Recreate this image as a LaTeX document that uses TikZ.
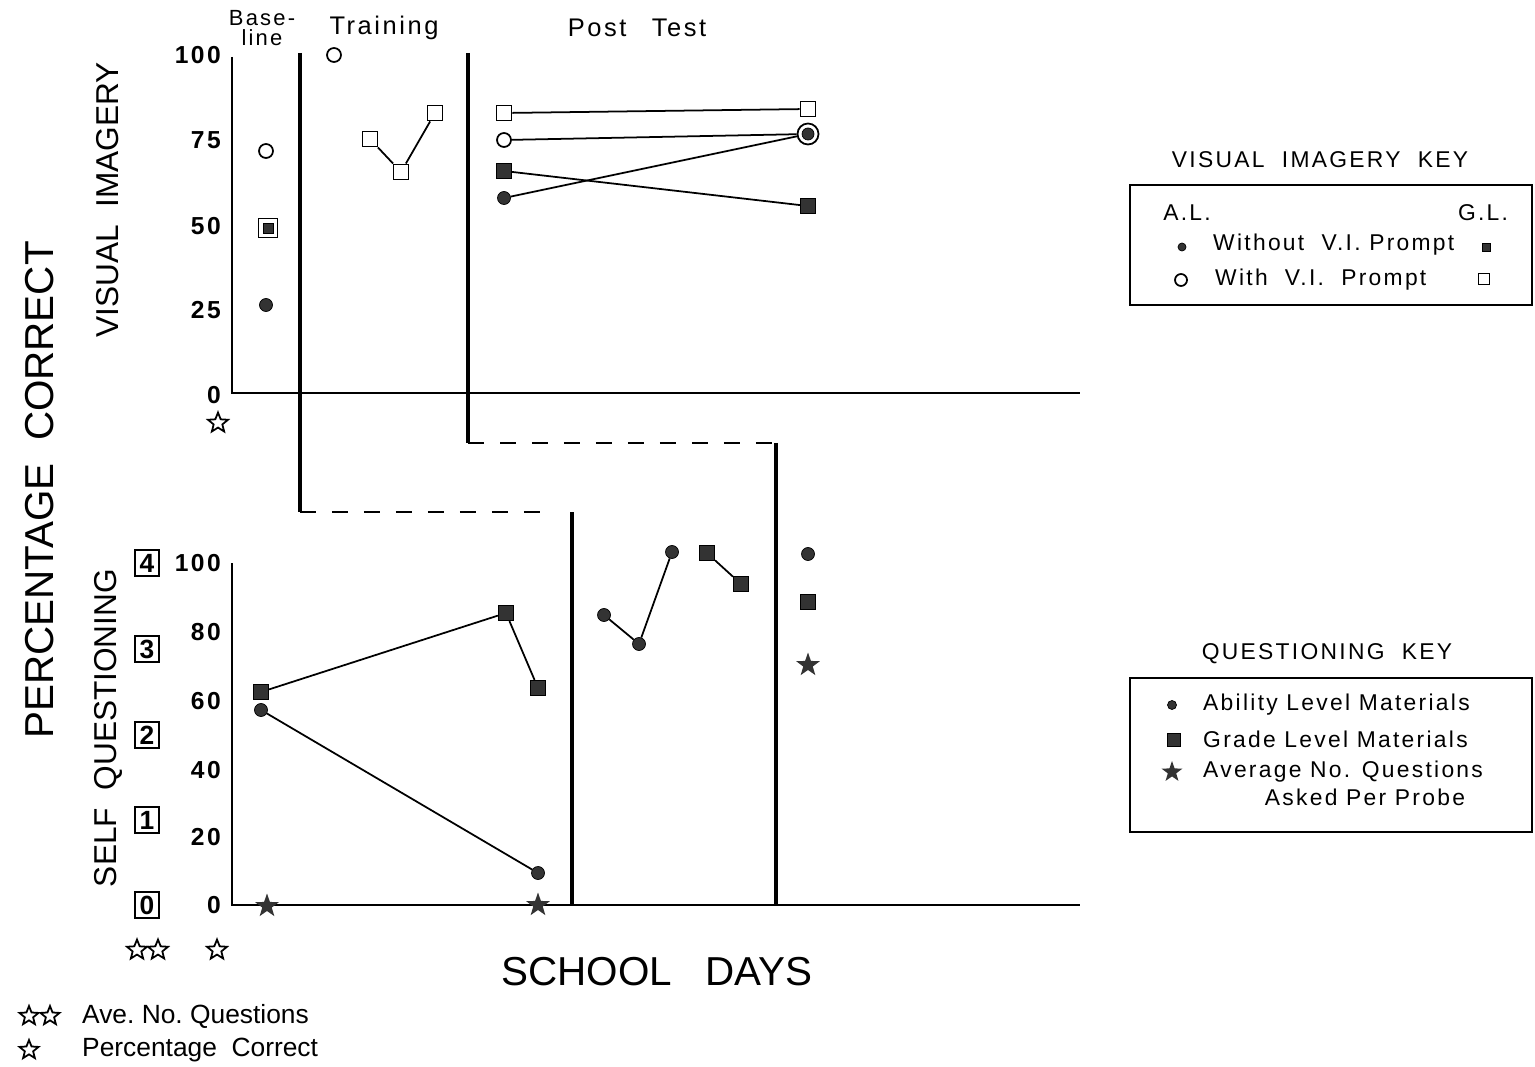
\documentclass[tikz,border=0pt]{standalone}
\usepackage{fontspec}
\setmainfont{Liberation Sans}[LetterSpace=10]
\newfontfamily\plainfont{Liberation Sans}
\usetikzlibrary{shapes.geometric}

\begin{document}
\begin{tikzpicture}[x=0.02cm, y=-0.02cm,
  axis/.style={line width=1.2pt},
  phase/.style={line width=1.8pt},
  link/.style={line width=1pt},
  guide/.style={line width=1.4pt, dash pattern=on 0.32cm off 0.32cm},
  dot/.style={circle, fill=black!80, draw=black, inner sep=0pt, minimum size=0.26cm},
  ring/.style={circle, draw=black, line width=1pt, inner sep=0pt, minimum size=0.28cm},
  openbox/.style={rectangle, draw=black, line width=1.1pt, inner sep=0pt, minimum size=0.3cm},
  block/.style={rectangle, fill=black!80, draw=black, inner sep=0pt, minimum size=0.31cm},
  fullstar/.style={star, star points=5, star point ratio=2.5, fill=black!80, inner sep=0pt, minimum size=0.5cm},
  emptystar/.style={star, star points=5, star point ratio=2.3, draw=black, line width=1pt, inner sep=0pt, minimum size=0.42cm},
  ticklabel/.style={anchor=east, font=\ticksize\bfseries},
  numbox/.style={draw, line width=1.1pt, minimum width=0.48cm, minimum height=0.52cm, inner sep=0pt, font=\numsize\bfseries}
]
\def\ticksize{\fontsize{14}{16}\selectfont}
\def\numsize{\fontsize{15}{17}\selectfont}
\def\headsize{\fontsize{14.5}{16}\selectfont}
\def\keysize{\fontsize{13}{15}\selectfont}
\def\axissize{\plainfont\fontsize{18}{20}\selectfont}
\def\bigsize{\plainfont\fontsize{23}{25}\selectfont}

\useasboundingbox (0, 0) rectangle (1535, 1067);

% titles of the phases
\node[align=center, font=\fontsize{12.5}{11}\selectfont, inner sep=0pt] (base) at (262, 28) {Base-\\line};
\node[font=\headsize] (train) at (384, 28) {Training};
\node[font=\headsize] (post) at (637, 28) {Post\quad Test};

% axis names
\node[rotate=90, font=\bigsize] (pc) at (40, 490) {PERCENTAGE\ \ CORRECT};
\node[rotate=90, font=\axissize] (vi) at (108, 200) {VISUAL\ \ IMAGERY};
\node[rotate=90, font=\axissize] (sq) at (108, 728) {SELF\ \ QUESTIONING};
\node[font=\bigsize] (days) at (657, 972) {SCHOOL\ \ \ DAYS};

%% visual imagery
\draw[axis] (232, 57) -- (232, 393) -- (1080, 393);
\foreach \val/\ypos in {100/55, 75/140, 50/226, 25/310, 0/395}
  \node[ticklabel] (v\val) at (227, \ypos) {\val};
\node[emptystar] (vstar) at (218, 423) {};

\node[ring] (b1) at (266, 151) {};
\node[openbox, minimum size=0.38cm] (b2) at (268, 228) {};
\node[block, minimum size=0.2cm] (b2in) at (b2) {};
\node[dot] (b3) at (266, 305) {};

\node[ring] (t1) at (334, 55) {};
\node[openbox] (t2) at (370, 139) {};
\node[openbox] (t3) at (401, 172) {};
\node[openbox] (t4) at (435, 113) {};
\draw[link] (t2) -- (t3) -- (t4);

\node[openbox] (p1) at (504, 113) {};
\node[ring] (p2) at (504, 140) {};
\node[block] (p3) at (504, 171) {};
\node[dot] (p4) at (504, 198) {};

\node[openbox] (f1) at (808, 109) {};
\node[ring, minimum size=0.42cm] (f2) at (808, 134) {};
\node[dot, minimum size=0.24cm] (f2in) at (f2) {};
\node[block] (f3) at (808, 206) {};

\draw[link] (p1) -- (f1);
\draw[link] (p2) -- (f2);
\draw[link] (p3) -- (f3);
\draw[link] (p4) -- (f2);

%% phase lines
\draw[phase] (300, 53) -- (300, 512);
\draw[guide] (300, 512) -- (540, 512);
\draw[phase] (572, 512) -- (572, 905);
\draw[phase] (468, 53) -- (468, 443);
\draw[guide] (468, 443) -- (772, 443);
\draw[phase] (776, 443) -- (776, 905);

%% self questioning
\draw[axis] (232, 563) -- (232, 905) -- (1080, 905);
\foreach \val/\ypos in {100/563, 80/632, 60/701, 40/770, 20/837, 0/905}
  \node[ticklabel] (s\val) at (227, \ypos) {\val};
\foreach \num/\ypos in {4/563, 3/649, 2/735, 1/820, 0/905}
  \node[numbox] (n\num) at (147, \ypos) {\num};
\node[emptystar] (qa) at (137, 950) {};
\node[emptystar] (qb) at (158, 950) {};
\node[emptystar] (qc) at (217, 950) {};

\node[block] (q1) at (261, 692) {};
\node[dot] (q2) at (261, 710) {};
\node[fullstar] (q3) at (267, 906) {};
\node[block] (q4) at (506, 613) {};
\node[block] (q5) at (538, 688) {};
\node[dot] (q6) at (538, 873) {};
\node[fullstar] (q7) at (538, 905) {};
\draw[link] (q1) -- (q4) -- (q5);
\draw[link] (q2) -- (q6);

\node[dot] (r1) at (604, 615) {};
\node[dot] (r2) at (639, 644) {};
\node[dot] (r3) at (672, 552) {};
\node[block] (r4) at (707, 553) {};
\node[block] (r5) at (741, 584) {};
\draw[link] (r1) -- (r2) -- (r3);
\draw[link] (r4) -- (r5);

\node[dot] (u1) at (808, 554) {};
\node[block] (u2) at (808, 602) {};
\node[fullstar] (u3) at (808, 665) {};

%% visual imagery key
\node[font=\keysize] (vkey) at (1320, 160) {VISUAL\ \ IMAGERY\ \ KEY};
\draw[axis] (1130, 185) rectangle (1532, 305);
\node[font=\keysize] (al) at (1187, 213) {A.L.};
\node[font=\keysize] (gl) at (1483, 213) {G.L.};
\node[dot, minimum size=0.16cm] (k1) at (1182, 247) {};
\node[font=\keysize, anchor=west] (k1t) at (1207, 245) {Without\ \ V.I. Prompt};
\node[block, minimum size=0.16cm] (k1b) at (1486, 247) {};
\node[ring, minimum size=0.24cm] (k2) at (1181, 280) {};
\node[font=\keysize, anchor=west] (k2t) at (1209, 280) {With\ \ V.I.\ \ Prompt};
\node[openbox, minimum size=0.22cm] (k2b) at (1484, 279) {};

%% questioning key
\node[font=\keysize] (qkey) at (1327, 654) {QUESTIONING\ \ KEY};
\draw[axis] (1130, 678) rectangle (1532, 832);
\node[dot, minimum size=0.18cm] (g1) at (1172, 705) {};
\node[font=\keysize, anchor=west] (g1t) at (1197, 705) {Ability Level Materials};
\node[block, minimum size=0.26cm] (g2) at (1174, 740) {};
\node[font=\keysize, anchor=west] (g2t) at (1197, 739) {Grade Level Materials};
\node[fullstar, minimum size=0.44cm] (g3) at (1172, 772) {};
\node[font=\keysize, anchor=west] (g3t) at (1197, 772) {Average No. Questions};
\node[font=\keysize] (g4t) at (1365, 797) {Asked Per Probe};

%% star legend
\node[emptystar, minimum size=0.4cm] (la) at (29, 1016) {};
\node[emptystar, minimum size=0.4cm] (lb) at (50, 1016) {};
\node[font=\plainfont\fontsize{15}{17}\selectfont, anchor=west] (lat) at (76, 1016) {Ave.\ No.\ Questions};
\node[emptystar, minimum size=0.4cm] (lc) at (29, 1050) {};
\node[font=\plainfont\fontsize{15}{17}\selectfont, anchor=west] (lct) at (76, 1050) {Percentage\ \ Correct};

\end{tikzpicture}
\end{document}
